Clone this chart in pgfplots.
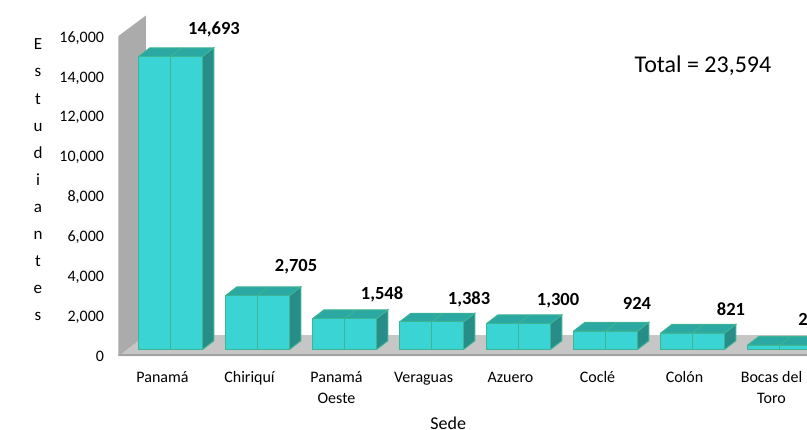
\documentclass[border=0pt]{standalone}
\usepackage{pgfplots}
\usepackage{fontspec}
\setmainfont{Carlito}
\pgfplotsset{compat=1.18}

% 1 image pixel = 1pt
\definecolor{barfront}{HTML}{3BD4D4}
\definecolor{baredge}{HTML}{3DB594}
\definecolor{bartop}{HTML}{2CA8A2}
\definecolor{barside}{HTML}{288C88}
\definecolor{wallgray}{HTML}{ABABAB}
\definecolor{floorgray}{HTML}{C6C6C6}
\definecolor{flooredge}{HTML}{A2A2A2}

\pgfplotstableread{
cat value lx ly
0 14693 43.5 27.5
1 2705 38.5 28.5
2 1548 37.5 24.5
3 1383 37.5 22.5
4 1300 39.5 22.5
5 924 31.5 27.5
6 821 38.5 24
7 220 33 26
}\sedes

\newcommand\hw{0.368}
\newcommand\dx{0.13}
\newcommand\dy{436}

% side and top faces of a bar: #1 category, #2 value
\newcommand\cuboid[2]{%
  \pgfmathsetmacro\xa{#1-\hw}
  \pgfmathsetmacro\xb{#1+\hw}
  \pgfmathsetmacro\xc{#1+\hw+\dx}
  \pgfmathsetmacro\xd{#1-\hw+\dx}
  \pgfmathsetmacro\xm{#1+\dx}
  \pgfmathsetmacro\yt{#2+\dy}
  \addplot[fill=barside, draw=baredge, line width=0.9pt] coordinates {(\xb,0) (\xc,\dy) (\xc,\yt) (\xb,#2) (\xb,0)};
  \addplot[fill=bartop, draw=baredge, line width=0.9pt] coordinates {(\xa,#2) (\xd,\yt) (\xc,\yt) (\xb,#2) (\xa,#2)};
  \addplot[draw=baredge, line width=0.9pt] coordinates {(#1,#2) (\xm,\yt)};
}

\begin{document}
\begin{tikzpicture}
\path[clip, use as bounding box] (0,0) rectangle (807pt,429pt);
\node[font=\fontsize{17}{20}\selectfont\bfseries, anchor=south] at (527pt,426.5pt) {PRIMER SEMESTRE AÑO 2021};
\begin{axis}[
    at={(118.5pt,73pt)}, anchor=south west,
    x=87pt, y=0.0199375pt,
    xmin=-0.598, xmax=7.32,
    ymin=-326, ymax=16752,
    axis line style={draw=none},
    major tick length=0pt,
    font=\fontsize{16}{21}\selectfont,
    xtick={0,...,7},
    xticklabels={Panamá, Chiriquí, {Panamá\\Oeste}, Veraguas, Azuero, Coclé, Colón, {Bocas del\\Toro}},
    typeset ticklabels with strut,
    xticklabel style={align=center, xshift=-8pt, yshift=-8pt},
    ytick={0,2000,...,16000},
    yticklabel style={xshift=-11pt, yshift=-7.5pt, /pgf/number format/assume math mode=true},
    tick label style={/pgf/number format/1000 sep={,}},
    scaled y ticks=false,
    xlabel={Sede},
    xlabel style={at={(axis description cs:0.4786,-0.1968)}, anchor=center, font=\fontsize{18}{21}\selectfont},
    ylabel={E\\s\\t\\u\\d\\i\\a\\n\\t\\e\\s},
    ylabel style={at={(axis description cs:-0.1169,0.5169)}, anchor=center, rotate=-90, align=center, font=\fontsize{17}{27.1}\selectfont},
]
% floor and side wall
\addplot[fill=floorgray, draw=none] coordinates {(-0.598,-326) (-0.282,727) (7.32,727) (7.32,-326) (-0.598,-326)};
\addplot[draw=flooredge, line width=2pt] coordinates {(-0.598,-290) (7.32,-290)};
\addplot[fill=wallgray, draw=none] coordinates {(-0.598,-326) (-0.282,727) (-0.282,16752) (-0.598,15724) (-0.598,-326)};

\cuboid{0}{14693}
\cuboid{1}{2705}
\cuboid{2}{1548}
\cuboid{3}{1383}
\cuboid{4}{1300}
\cuboid{5}{924}
\cuboid{6}{821}
\cuboid{7}{220}

% front faces
\addplot[ybar, bar width=0.736, fill=barfront, draw=baredge, line width=0.9pt,
    nodes near coords,
    visualization depends on={\thisrow{lx} \as \lx},
    visualization depends on={\thisrow{ly} \as \ly},
    every node near coord/.append style={anchor=center, xshift=\lx pt, yshift=\ly pt,
        font=\fontsize{18.5}{20}\selectfont\bfseries, text=black,
        /pgf/number format/assume math mode=true, /pgf/number format/1000 sep={,}},
  ] table[x=cat, y=value] {\sedes};
% divider down the middle of each bar
\addplot[ycomb, draw=baredge, line width=0.9pt, mark=none] table[x=cat, y=value] {\sedes};

\node[font=\fontsize{24}{28}\selectfont, anchor=center] at (axis cs:6.12,14240) {Total = 23,594};
\end{axis}
\end{tikzpicture}
\end{document}
